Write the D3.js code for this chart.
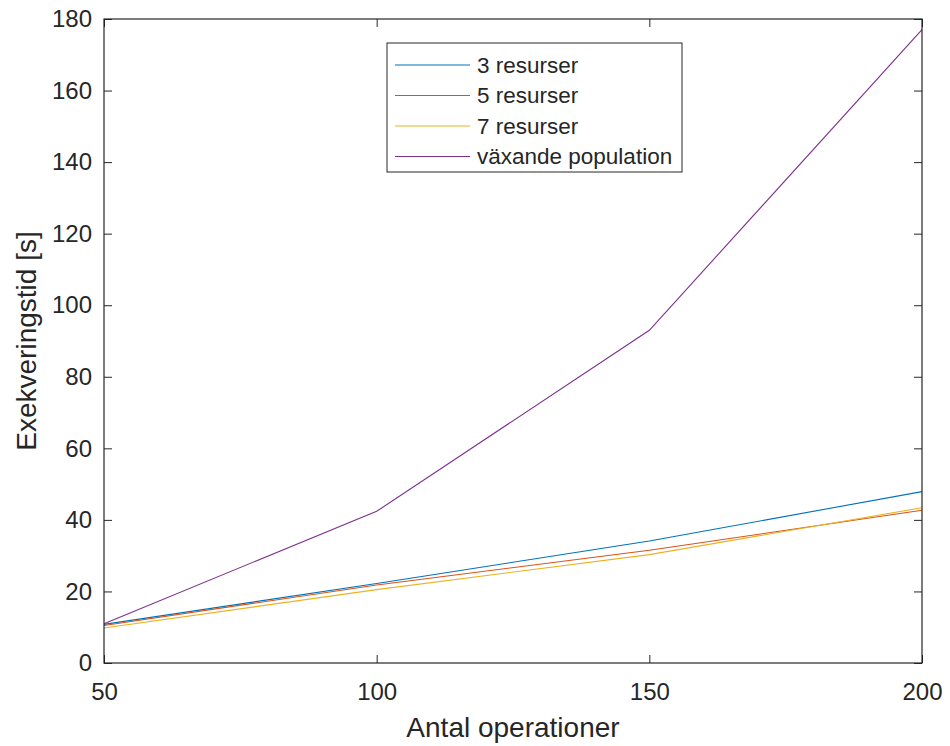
<!DOCTYPE html>
<html>
<head>
<meta charset="utf-8">
<script src="https://cdn.jsdelivr.net/npm/d3@7"></script>
<style>
  body { margin: 0; background: #fff; }
  text { font-family: "Liberation Sans", Arial, sans-serif; fill: #262626; }
</style>
</head>
<body>
<div id="chart-area"></div>
<script>
// data
var operations = [50, 100, 150, 200];
var res3 = [10.8, 22.2, 34.1, 47.9];
var res5 = [10.5, 21.8, 31.5, 42.7];
var res7 = [9.8, 20.5, 30.3, 43.4];
var growing = [11.0, 42.4, 93.0, 177.0];

var seriesNames = ["3 resurser", "5 resurser", "7 resurser", "växande population"];
var seriesColors = ["#0072BD", "#D95319", "#EDB120", "#7E2F8E"];
var xTicks = [50, 100, 150, 200];
var yTicks = [0, 20, 40, 60, 80, 100, 120, 140, 160, 180];

var margin = { left: 104, right: 28, top: 19, bottom: 83 };
var width = 950 - margin.left - margin.right;
var height = 746 - margin.top - margin.bottom;

var svg = d3.select("#chart-area")
    .append("svg")
        .attr("width", 950)
        .attr("height", 746);

var g = svg.append("g")
    .attr("transform", "translate(" + margin.left + "," + margin.top + ")");

var x = d3.scaleLinear().domain([50, 200]).range([0, width]);
var y = d3.scaleLinear().domain([0, 180]).range([height, 0]);

var axisColor = "#262626";
var tickLen = 8;

// lines
var allSeries = [res3, res5, res7, growing];
var line = d3.line()
    .x(function(d, i){ return x(operations[i]); })
    .y(function(d){ return y(d); });

g.selectAll(".series")
    .data(allSeries)
    .enter()
    .append("path")
        .attr("class", "series")
        .attr("d", line)
        .attr("fill", "none")
        .attr("stroke", function(d, i){ return seriesColors[i]; })
        .attr("stroke-width", 1.1);

// axes (ticks point inward like matlab)
function styleAxis(sel) {
    sel.select(".domain").remove();
    sel.selectAll("line").attr("stroke", axisColor).attr("stroke-width", 1);
    sel.selectAll("text").attr("font-size", "24px").style("fill", axisColor);
}

g.append("g")
    .attr("transform", "translate(0," + height + ")")
    .call(d3.axisBottom(x).tickValues(xTicks).tickSizeInner(-tickLen).tickSizeOuter(0).tickPadding(20))
    .call(styleAxis);

g.append("g")
    .call(d3.axisTop(x).tickValues(xTicks).tickSizeInner(-tickLen).tickSizeOuter(0).tickFormat(""))
    .call(styleAxis);

g.append("g")
    .call(d3.axisLeft(y).tickValues(yTicks).tickSizeInner(-tickLen).tickSizeOuter(0).tickPadding(12))
    .call(styleAxis);

g.append("g")
    .attr("transform", "translate(" + width + ",0)")
    .call(d3.axisRight(y).tickValues(yTicks).tickSizeInner(-tickLen).tickSizeOuter(0).tickFormat(""))
    .call(styleAxis);

// box
g.append("rect")
    .attr("width", width)
    .attr("height", height)
    .attr("fill", "none")
    .attr("stroke", axisColor)
    .attr("stroke-width", 1.2);

// axis labels
g.append("text")
    .attr("x", width / 2)
    .attr("y", height + 74)
    .attr("text-anchor", "middle")
    .attr("font-size", "28px")
    .text("Antal operationer");

g.append("text")
    .attr("transform", "rotate(-90)")
    .attr("x", -(height / 2))
    .attr("y", -68)
    .attr("text-anchor", "middle")
    .attr("font-size", "28px")
    .text("Exekveringstid [s]");

// legend
var legend = svg.append("g")
    .attr("transform", "translate(387,43)");

legend.append("rect")
    .attr("width", 295)
    .attr("height", 129)
    .attr("fill", "#fff")
    .attr("stroke", axisColor)
    .attr("stroke-width", 1);

var items = legend.selectAll(".item")
    .data(seriesNames)
    .enter()
    .append("g")
        .attr("class", "item")
        .attr("transform", function(d, i){ return "translate(0," + (22 + i * 30.5) + ")"; });

items.append("line")
    .attr("x1", 8)
    .attr("x2", 83)
    .attr("stroke", function(d, i){ return seriesColors[i]; })
    .attr("stroke-width", 1.1);

items.append("text")
    .attr("x", 90)
    .attr("dy", "0.35em")
    .attr("font-size", "22.5px")
    .text(function(d){ return d; });
</script>
</body>
</html>
